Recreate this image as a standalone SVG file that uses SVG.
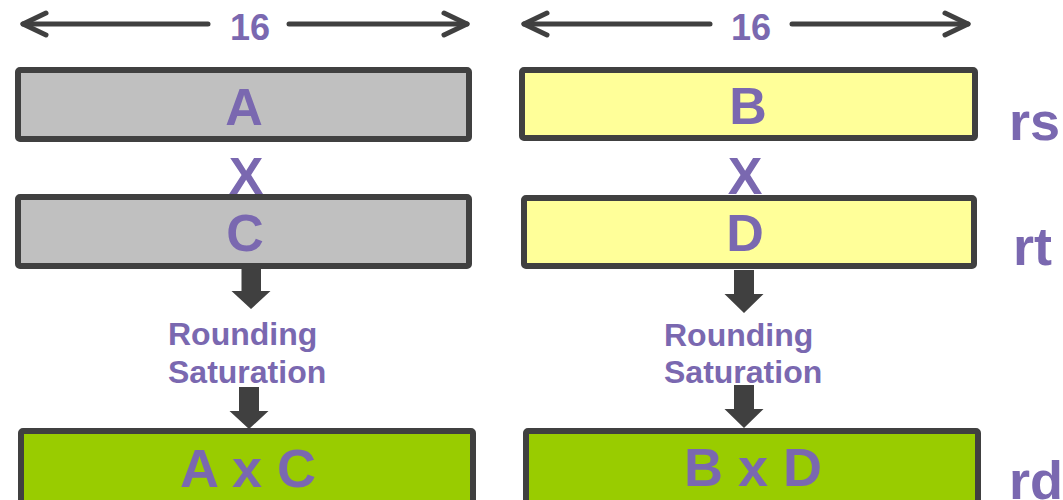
<svg xmlns="http://www.w3.org/2000/svg" width="1063" height="500" viewBox="0 0 1063 500">
<style>
.box{stroke:#404040;stroke-width:6}
.gray{fill:#c0c0c0}
.yellow{fill:#ffff99}
.green{fill:#99cc00}
.t{font-family:"Liberation Sans",Arial,sans-serif;font-weight:bold;fill:#7a68b0}
.big{font-size:52px;text-anchor:middle}
.res{font-size:54px;text-anchor:middle}
.small{font-size:32px}
.reg{font-size:54px}
.dim{stroke:#404040;stroke-width:5;fill:none;stroke-linecap:round;stroke-linejoin:round}
.down{fill:#404040}
</style>
<rect width="1063" height="500" fill="#ffffff"/>
<g id="connectors">
  <g id="dim-left">
    <line class="dim" x1="23" y1="24" x2="208" y2="24"/>
    <line class="dim" x1="289" y1="24" x2="467" y2="24"/>
    <polyline class="dim" points="46,13 23,24 46,35"/>
    <polyline class="dim" points="444,13 467,24 444,35"/>
    <text class="t" x="250" y="40" font-size="36" text-anchor="middle">16</text>
  </g>
  <g id="dim-right">
    <line class="dim" x1="524" y1="24" x2="710" y2="24"/>
    <line class="dim" x1="792" y1="24" x2="968" y2="24"/>
    <polyline class="dim" points="547,13 524,24 547,35"/>
    <polyline class="dim" points="945,13 968,24 945,35"/>
    <text class="t" x="751" y="40" font-size="36" text-anchor="middle">16</text>
  </g>
  <polygon class="down" points="241.5,269 261,269 261,291 270.5,291 251,309 231.5,291 241.5,291"/>
  <polygon class="down" points="239,387 259,387 259,411 268.5,411 249,429 229.5,411 239,411"/>
  <polygon class="down" points="734,270 754,270 754,294 763.5,294 744,313 724.5,294 734,294"/>
  <polygon class="down" points="734,385 754,385 754,409 763.5,409 744,428 724.5,409 734,409"/>
</g>
<g id="node-A">
  <rect class="box gray" x="18" y="70" width="451" height="69" rx="2"/>
  <text class="t big" x="244" y="125">A</text>
</g>
<g id="node-B">
  <rect class="box yellow" x="522" y="70" width="453" height="68" rx="2"/>
  <text class="t big" x="748" y="124">B</text>
</g>
<g id="op-left"><text class="t big" x="246" y="194">X</text></g>
<g id="op-right"><text class="t big" x="745" y="194">X</text></g>
<g id="node-C">
  <rect class="box gray" x="18" y="197" width="451" height="69" rx="2"/>
  <text class="t big" x="245" y="251">C</text>
</g>
<g id="node-D">
  <rect class="box yellow" x="524" y="198" width="450" height="68" rx="2"/>
  <text class="t big" x="745" y="251">D</text>
</g>
<g id="step-left">
  <text class="t small" x="168" y="345">Rounding</text>
  <text class="t small" x="168" y="383">Saturation</text>
</g>
<g id="step-right">
  <text class="t small" x="664" y="346">Rounding</text>
  <text class="t small" x="664" y="383">Saturation</text>
</g>
<g id="node-AxC">
  <rect class="box green" x="21" y="431" width="452" height="80" rx="2"/>
  <text class="t res" x="248" y="487">A x C</text>
</g>
<g id="node-BxD">
  <rect class="box green" x="526" y="431" width="452" height="80" rx="2"/>
  <text class="t res" x="753" y="486">B x D</text>
</g>
<g id="reg-labels">
  <text class="t reg" x="1009" y="140">rs</text>
  <text class="t reg" x="1013" y="265">rt</text>
  <text class="t reg" x="1009" y="499">rd</text>
</g>
</svg>
